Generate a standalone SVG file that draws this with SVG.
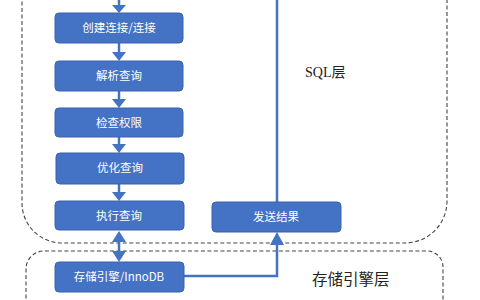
<svg xmlns="http://www.w3.org/2000/svg" width="480" height="300" viewBox="0 0 480 300">
<defs>
<style>
.box{fill:#4472C4;stroke:#3A63AD;stroke-width:1}
.bt{fill:#fff;font-family:"Noto Sans CJK SC","Liberation Sans",sans-serif;font-size:11.5px;text-anchor:middle}
.lbl{fill:#222;font-family:"Liberation Serif","Noto Sans CJK SC",serif}
.dash{fill:none;stroke:#444;stroke-width:1.1;stroke-dasharray:4 2.5}
.ln{fill:none;stroke:#4472C4;stroke-width:2.5}
.ah{fill:#4472C4}
</style>
</defs>
<rect width="480" height="300" fill="#fff"/>
<g id="layers">
<path class="dash" d="M22,-5 V203 A40,40 0 0 0 62,243 H405 A42,42 0 0 0 447,201 V-5"/>
<path class="dash" d="M26,305 V269 A18,18 0 0 1 44,251 H427 A16,16 0 0 1 443,267 V305"/>
</g>
<g id="connectors">
<line class="ln" x1="119" y1="0" x2="119" y2="6"/>
<polygon class="ah" points="112,5 126,5 119,13"/>
<line class="ln" x1="119" y1="43" x2="119" y2="53"/>
<polygon class="ah" points="112,52 126,52 119,61"/>
<line class="ln" x1="119" y1="91" x2="119" y2="100"/>
<polygon class="ah" points="112,99 126,99 119,108"/>
<line class="ln" x1="119" y1="137" x2="119" y2="145"/>
<polygon class="ah" points="112,144 126,144 119,153"/>
<line class="ln" x1="119" y1="184" x2="119" y2="193"/>
<polygon class="ah" points="112,192 126,192 119,201"/>
<line class="ln" x1="119" y1="240" x2="119" y2="253"/>
<polygon class="ah" points="112,242 126,242 119,231"/>
<polygon class="ah" points="112,251 126,251 119,262"/>
<polyline class="ln" points="184,276 277,276 277,244"/>
<polygon class="ah" points="270,245 284,245 277,232"/>
<line class="ln" x1="277" y1="202" x2="277" y2="0"/>
</g>
<g id="n1"><rect class="box" x="55" y="13" width="128" height="30" rx="4"/><text class="bt" x="119" y="32">创建连接/连接</text></g>
<g id="n2"><rect class="box" x="55" y="61" width="128" height="30" rx="4"/><text class="bt" x="119" y="80">解析查询</text></g>
<g id="n3"><rect class="box" x="55" y="108" width="128" height="29" rx="4"/><text class="bt" x="119" y="127">检查权限</text></g>
<g id="n4"><rect class="box" x="56" y="153" width="128" height="31" rx="4"/><text class="bt" x="120" y="172">优化查询</text></g>
<g id="n5"><rect class="box" x="55" y="201" width="129" height="29" rx="4"/><text class="bt" x="119" y="220">执行查询</text></g>
<g id="n6"><rect class="box" x="55" y="262" width="129" height="30" rx="4"/><text class="bt" x="119" y="281">存储引擎/InnoDB</text></g>
<g id="n7"><rect class="box" x="212" y="202" width="129" height="30" rx="4"/><text class="bt" x="276" y="221">发送结果</text></g>
<text class="lbl" x="305" y="77" font-size="14">SQL层</text>
<text class="lbl" x="312" y="285" font-size="15.5">存储引擎层</text>
</svg>
